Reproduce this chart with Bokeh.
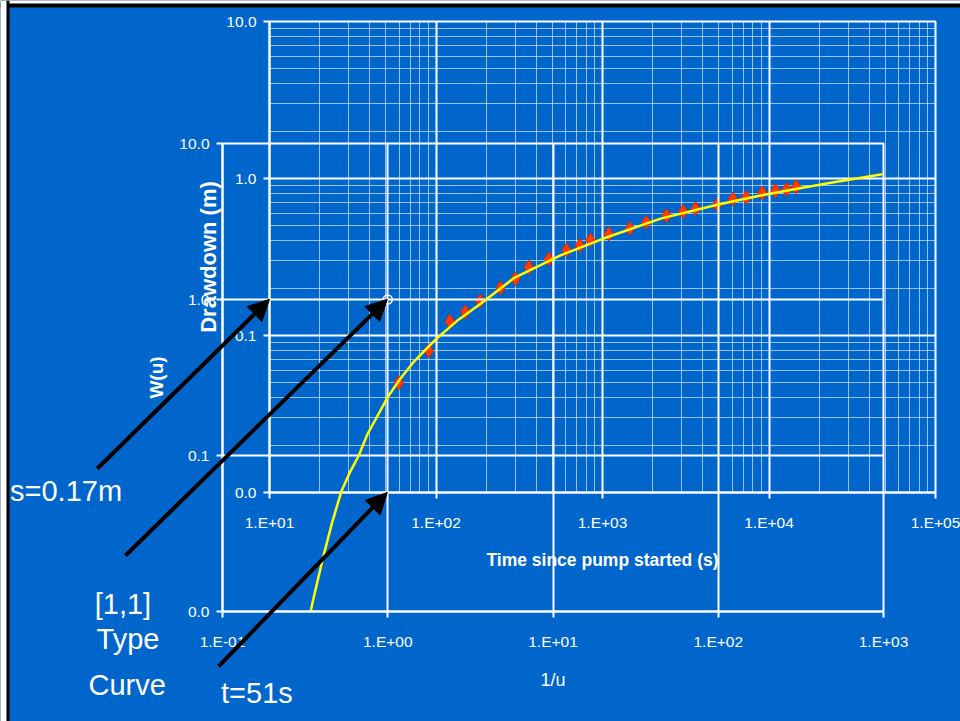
from bokeh.plotting import figure
from bokeh.models import Range1d, FixedTicker, Arrow, NormalHead, GridBox, BoxAnnotation
from bokeh.core.properties import value
from bokeh.embed import file_html
from bokeh.resources import INLINE

# ---------------- data ----------------
# field data: time since pump started (s) and drawdown (m)
pump_time_s = [59.8, 90.5, 121, 150, 184, 244, 300, 361, 476, 608, 731, 847, 1091,
               1459, 1830, 2424, 3052, 3620, 4887, 6062, 7297, 9104, 10940, 12740, 14570]
drawdown_m = [0.050, 0.080, 0.123, 0.141, 0.166, 0.201, 0.230, 0.272, 0.307, 0.350, 0.374,
              0.406, 0.443, 0.481, 0.526, 0.580, 0.615, 0.642, 0.681, 0.741, 0.758, 0.809,
              0.836, 0.852, 0.887]

# Theis type curve: 1/u and W(u)
type_inv_u = [0.341, 0.37, 0.407, 0.46, 0.523, 0.59, 0.668, 0.751, 0.905, 1.0, 1.195, 1.44,
              1.95, 2.63, 3.65, 5.79, 11.1, 20, 44.8, 100, 180.7, 300, 500, 984]
type_w_u = [0.0100, 0.0146, 0.0224, 0.037, 0.0585, 0.078, 0.100, 0.136, 0.195, 0.237, 0.312,
            0.400, 0.555, 0.73, 0.94, 1.37, 1.92, 2.45, 3.30, 4.06, 4.64, 5.13, 5.64, 6.35]

# match point [1,1] on the type curve
match_inv_u = [1.0]
match_w = [1.0]

# axis ticks and labels
data_x_ticks = [1e1, 1e2, 1e3, 1e4, 1e5]
data_x_labels = ["1.E+01", "1.E+02", "1.E+03", "1.E+04", "1.E+05"]
data_y_ticks = [0.01, 0.1, 1.0, 10.0]
data_y_labels = ["0.0", "0.1", "1.0", "10.0"]
type_x_ticks = [0.1, 1.0, 10.0, 100.0, 1000.0]
type_x_labels = ["1.E-01", "1.E+00", "1.E+01", "1.E+02", "1.E+03"]
type_y_ticks = [0.01, 0.1, 1.0, 10.0]
type_y_labels = ["0.0", "0.1", "1.0", "10.0"]

# annotations (in time/drawdown coordinates of the field-data chart)
arrow_x_start = [0.923, 1.365, 4.95]
arrow_y_start = [0.01416, 0.00397, 0.00078]
arrow_x_end = [10.0, 51.0, 51.0]
arrow_y_end = [0.17, 0.17, 0.01]
note_text = ["s=0.17m", "[1,1]", "Type", "Curve", "t=51s"]
note_x = [0.60, 1.318, 1.413, 1.397, 8.40]
note_y = [0.01022, 0.001963, 0.001168, 0.000590, 0.000532]

# ---------------- layout / style ----------------
W, H = 960, 721
BLUE = "#0066cc"
FONT = "Liberation Sans"
# frame of the field-data chart (pixels): left, right, top, bottom
DL, DR, DT, DB = 269, 935, 21, 492
# frame of the type-curve chart
TL, TR, TT, TB = 222, 883, 143, 611


def minor_list(ticks):
    out = []
    for t in ticks[:-1]:
        out += [m * t for m in range(2, 10)]
    return out


def style(p, xt, xl, yt, yl, minor):
    for ax, ticks, labels in ((p.xaxis[0], xt, xl), (p.yaxis[0], yt, yl)):
        ax.ticker = FixedTicker(ticks=ticks, minor_ticks=minor_list(ticks) if minor else [])
        ax.major_label_overrides = {float(t): l for t, l in zip(ticks, labels)}
        ax.axis_line_color = "white"
        ax.axis_line_width = 2
        ax.major_tick_line_color = "white"
        ax.major_tick_line_width = 2
        ax.major_tick_out = 6
        ax.major_tick_in = 0
        ax.minor_tick_line_color = None
        ax.major_label_text_color = "white"
        ax.major_label_text_font = FONT
        ax.major_label_text_font_size = "15.5px"
        ax.axis_label_text_color = "white"
        ax.axis_label_text_font = FONT
        ax.axis_label_text_font_style = "bold"
        ax.axis_label_text_font_size = "17.5px"
    p.xaxis.major_label_standoff = 15
    p.yaxis.major_label_standoff = 7
    p.xgrid.grid_line_color = "white"
    p.ygrid.grid_line_color = "white"
    p.xgrid.grid_line_width = 2
    p.ygrid.grid_line_width = 2
    if minor:
        for g in (p.xgrid[0], p.ygrid[0]):
            g.minor_grid_line_color = "white"
            g.minor_grid_line_alpha = 0.6
            g.minor_grid_line_width = 1


common = dict(width=W, height=H, x_axis_type="log", y_axis_type="log", frame_align=False,
              output_backend="svg", toolbar_location=None)

# ---- field data chart (bottom layer, carries the blue background) ----
p_data = figure(x_range=Range1d(data_x_ticks[0], data_x_ticks[-1]),
                y_range=Range1d(data_y_ticks[0], data_y_ticks[-1]),
                min_border_left=DL, min_border_right=W - DR,
                min_border_top=DT, min_border_bottom=H - DB,
                background_fill_color=BLUE, border_fill_color=BLUE,
                outline_line_color="white", outline_line_width=2, **common)
style(p_data, data_x_ticks, data_x_labels, data_y_ticks, data_y_labels, True)
p_data.xaxis.axis_label = "Time since pump started (s)"
p_data.yaxis.axis_label = "Drawdown (m)"
p_data.yaxis.axis_label_text_font_size = "22px"
p_data.xaxis.axis_label_standoff = 16
p_data.yaxis.axis_label_standoff = 2
p_data.scatter(pump_time_s, drawdown_m, marker="diamond", size=14,
               fill_color="#ff3c00", line_color="#e62800", line_width=1)

# ---- type curve chart (middle layer, transparent) ----
p_type = figure(x_range=Range1d(type_x_ticks[0], type_x_ticks[-1]),
                y_range=Range1d(type_y_ticks[0], type_y_ticks[-1]),
                min_border_left=TL, min_border_right=W - TR,
                min_border_top=TT, min_border_bottom=H - TB,
                background_fill_alpha=0, border_fill_alpha=0,
                outline_line_color="white", outline_line_width=2, **common)
style(p_type, type_x_ticks, type_x_labels, type_y_ticks, type_y_labels, False)
p_type.xaxis.axis_label = "1/u"
p_type.xaxis.axis_label_text_font_style = "normal"
p_type.xaxis.axis_label_text_font_size = "18px"
p_type.yaxis.axis_label = "W(u)"
p_type.yaxis.axis_label_text_font_size = "19px"
p_type.xaxis.axis_label_standoff = 17
p_type.yaxis.axis_label_standoff = 9
p_type.line(type_inv_u, type_w_u, line_color="#ffff00", line_width=2.5)
p_type.scatter(match_inv_u, match_w, marker="circle", size=9, fill_alpha=0,
               line_color="white", line_width=1.5)

# ---- annotation layer (top, whole canvas, same scale as the field-data chart) ----
dx = (DR - DL) / 4.0
dy = (DB - DT) / 3.0
ax0 = 10 ** (1 - DL / dx)
ax1 = 10 ** (5 + (W - DR) / dx)
ay0 = 10 ** (-2 - (H - DB) / dy)
ay1 = 10 ** (1 + DT / dy)
p_ann = figure(x_range=Range1d(ax0, ax1), y_range=Range1d(ay0, ay1),
               x_axis_location=None, y_axis_location=None, min_border=0,
               background_fill_alpha=0, border_fill_alpha=0, outline_line_color=None,
               **common)
p_ann.grid.visible = False
for xs, ys, xe, ye in zip(arrow_x_start, arrow_y_start, arrow_x_end, arrow_y_end):
    p_ann.add_layout(Arrow(end=NormalHead(size=21, fill_color="black", line_color="black"),
                           x_start=xs, y_start=ys, x_end=xe, y_end=ye,
                           line_color="black", line_width=4))
p_ann.text(x=note_x, y=note_y, text=note_text, text_color="white",
           text_font=value(FONT), text_font_size="29px",
           text_align="center", text_baseline="middle")


# slide edge (white margin and black rule at top and left)
def y_at(px):
    return 10 ** (1 + (DT - px) / dy)


def x_at(px):
    return 10 ** (1 + (px - DL) / dx)


p_ann.add_layout(BoxAnnotation(bottom=y_at(7), fill_color="black", fill_alpha=1, line_color=None))
p_ann.add_layout(BoxAnnotation(bottom=y_at(3), fill_color="white", fill_alpha=1, line_color=None))
p_ann.add_layout(BoxAnnotation(right=x_at(9), fill_color="black", fill_alpha=1, line_color=None))
p_ann.add_layout(BoxAnnotation(right=x_at(6), fill_color="white", fill_alpha=1, line_color=None))

layout = GridBox(children=[(p_data, 0, 0), (p_type, 0, 0), (p_ann, 0, 0)])
open("out.html", "w").write(file_html(layout, INLINE))
